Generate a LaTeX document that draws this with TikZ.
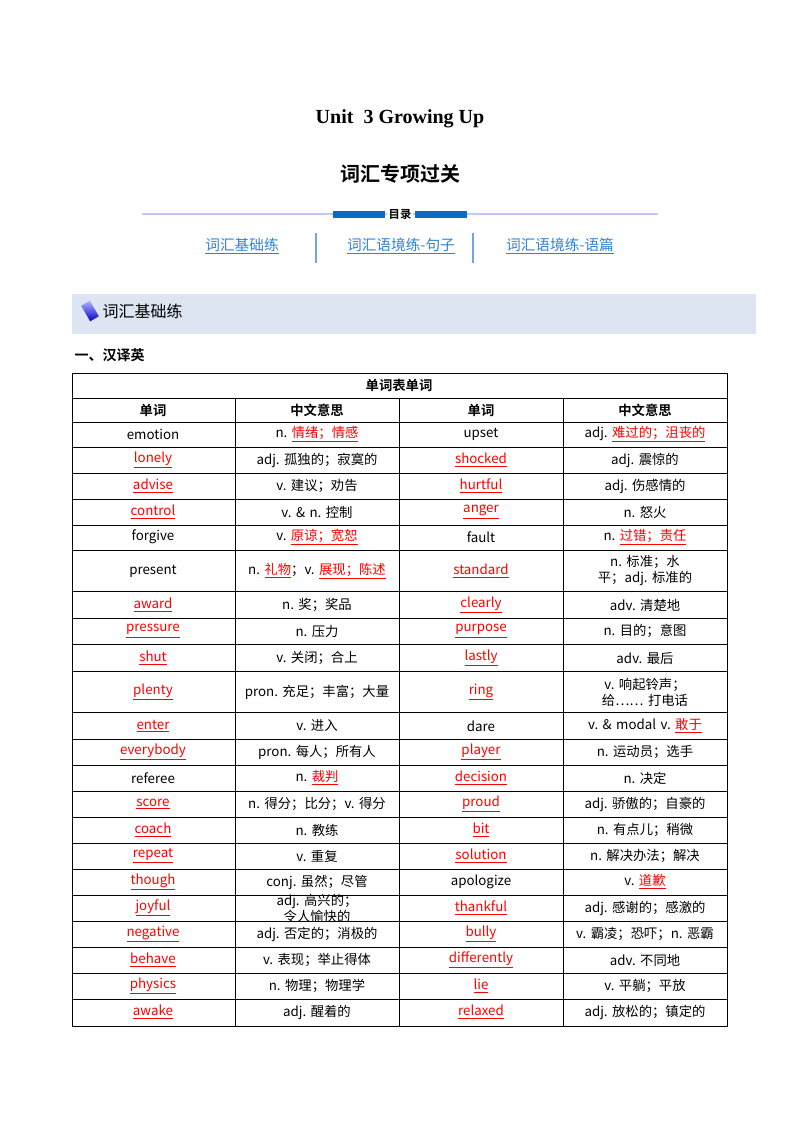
\documentclass[tikz,border=0pt]{standalone}
\usepackage{fontspec}
\setmainfont{Liberation Serif}
\newfontfamily\cjk{Noto Sans CJK SC}
\newfontfamily\cjkb{Noto Sans CJK SC Bold}
\XeTeXlinebreaklocale "zh"
\definecolor{ansred}{HTML}{FF0000}
\definecolor{linkblue}{HTML}{2F80D8}
\definecolor{barblue}{HTML}{0E6BC0}
\definecolor{banner}{HTML}{DCE5F1}
\newcommand{\ans}[1]{\textcolor{ansred}{\underline{#1}}}
\newcommand{\zh}[1]{{\cjk #1}}
\begin{document}
\begin{tikzpicture}[x=0.75pt,y=-0.75pt,
  cell/.style={font=\fontsize{10}{12}\selectfont,align=center,inner sep=1pt},
  wide/.style={cell,text width=110pt},
  grid/.style={line width=0.6pt}]
\useasboundingbox (0,0) rectangle (800,1132);
\node[font=\fontsize{15}{18}\selectfont\bfseries] (title) at (400,119) {Unit\ \ 3 Growing Up};
\node[font=\fontsize{15}{18}\selectfont\cjkb] (sub) at (400,174) {词汇专项过关};
\draw[color=banner!70!blue!60,line width=0.8pt] (142,214) -- (658,214);
\fill[barblue] (333,211) rectangle (385,218);
\fill[barblue] (415,211) rectangle (467,218);
\node[fill=white,inner sep=1pt,font=\fontsize{8.5}{10}\selectfont\cjkb] (toc) at (400,214) {目录};
\node[text=linkblue,font=\fontsize{11}{13}\selectfont\cjk] (l1) at (242,246) {\underline{词汇基础练}};
\node[text=linkblue,font=\fontsize{11}{13}\selectfont\cjk] (l2) at (401,246) {\underline{词汇语境练-句子}};
\node[text=linkblue,font=\fontsize{11}{13}\selectfont\cjk] (l3) at (560,246) {\underline{词汇语境练-语篇}};
\draw[linkblue!70,line width=0.8pt] (316,233) -- (316,263);
\draw[linkblue!70,line width=0.8pt] (473,233) -- (473,263);
\fill[banner] (72,294) rectangle (756,334);
\shade[top color=blue!30,bottom color=blue!80!black,rotate around={30:(90,311)}] (85,302) rectangle (95,320);
\node[anchor=west,font=\fontsize{12}{14}\selectfont\cjk] (sec) at (98,311) {词汇基础练};
\node[anchor=west,font=\fontsize{10.5}{12}\selectfont\cjkb] (part) at (70,355) {一、汉译英};
% table
\def\xa{72}\def\xb{235}\def\xc{399}\def\xd{563}\def\xe{727}
\draw[grid] (\xa,373) rectangle (\xe,1026);
\draw[grid] (\xa,398) -- (\xe,398);
\node[font=\fontsize{10}{12}\selectfont\cjkb] (th) at (399,385) {单词表单词};
\foreach \x/\t in {153/单词,317/中文意思,481/单词,645/中文意思}
  \node[font=\fontsize{10}{12}\selectfont\cjkb] at (\x,410) {\t};
\foreach \y in {422,447,473,499,525,550,591,618,644,671,712,739,765,791,817,843,869,895,921,947,973,999}
  \draw[grid] (\xa,\y) -- (\xe,\y);
\foreach \x in {\xb,\xc,\xd} \draw[grid] (\x,398) -- (\x,1026);
\newcommand{\trow}[5]{%
  \node[cell] at (153,#1) {#2};
  \node[wide] at (317,#1) {#3};
  \node[cell] at (481,#1) {#4};
  \node[wide] at (645,#1) {#5};}
\cjk
\trow{434}{emotion}{n.\ \ans{情绪；情感}}{upset}{adj.\ \ans{难过的；沮丧的}}
\trow{460}{\ans{lonely}}{adj.\ 孤独的；寂寞的}{\ans{shocked}}{adj.\ 震惊的}
\trow{486}{\ans{advise}}{v.\ 建议；劝告}{\ans{hurtful}}{adj.\ 伤感情的}
\trow{512}{\ans{control}}{v.\ \&\ n.\ 控制}{\ans{anger}}{n.\ 怒火}
\trow{537}{forgive}{v.\ \ans{原谅；宽恕}}{fault}{n.\ \ans{过错；责任}}
\trow{571}{present}{n.\ \ans{礼物}；v.\ \ans{展现；陈述}}{\ans{standard}}{n.\ 标准；水平；adj.\ 标准的}
\trow{605}{\ans{award}}{n.\ 奖；奖品}{\ans{clearly}}{adv.\ 清楚地}
\trow{631}{\ans{pressure}}{n.\ 压力}{\ans{purpose}}{n.\ 目的；意图}
\trow{658}{\ans{shut}}{v.\ 关闭；合上}{\ans{lastly}}{adv.\ 最后}
\trow{692}{\ans{plenty}}{pron.\ 充足；丰富；大量}{\ans{ring}}{v.\ 响起铃声；给……\ 打电话}
\trow{726}{\ans{enter}}{v.\ 进入}{dare}{v.\ \&\ modal v.\ \ans{敢于}}
\trow{752}{\ans{everybody}}{pron.\ 每人；所有人}{\ans{player}}{n.\ 运动员；选手}
\trow{778}{referee}{n.\ \ans{裁判}}{\ans{decision}}{n.\ 决定}
\trow{804}{\ans{score}}{n.\ 得分；比分；v.\ 得分}{\ans{proud}}{adj.\ 骄傲的；自豪的}
\trow{830}{\ans{coach}}{n.\ 教练}{\ans{bit}}{n.\ 有点儿；稍微}
\trow{856}{\ans{repeat}}{v.\ 重复}{\ans{solution}}{n.\ 解决办法；解决}
\trow{882}{\ans{though}}{conj.\ 虽然；尽管}{apologize}{v.\ \ans{道歉}}
\trow{908}{\ans{joyful}}{adj.\ 高兴的；令人愉快的}{\ans{thankful}}{adj.\ 感谢的；感激的}
\trow{934}{\ans{negative}}{adj.\ 否定的；消极的}{\ans{bully}}{v.\ 霸凌；恐吓；n.\ 恶霸}
\trow{960}{\ans{behave}}{v.\ 表现；举止得体}{\ans{differently}}{adv.\ 不同地}
\trow{986}{\ans{physics}}{n.\ 物理；物理学}{\ans{lie}}{v.\ 平躺；平放}
\trow{1012}{\ans{awake}}{adj.\ 醒着的}{\ans{relaxed}}{adj.\ 放松的；镇定的}
\end{tikzpicture}
\end{document}
